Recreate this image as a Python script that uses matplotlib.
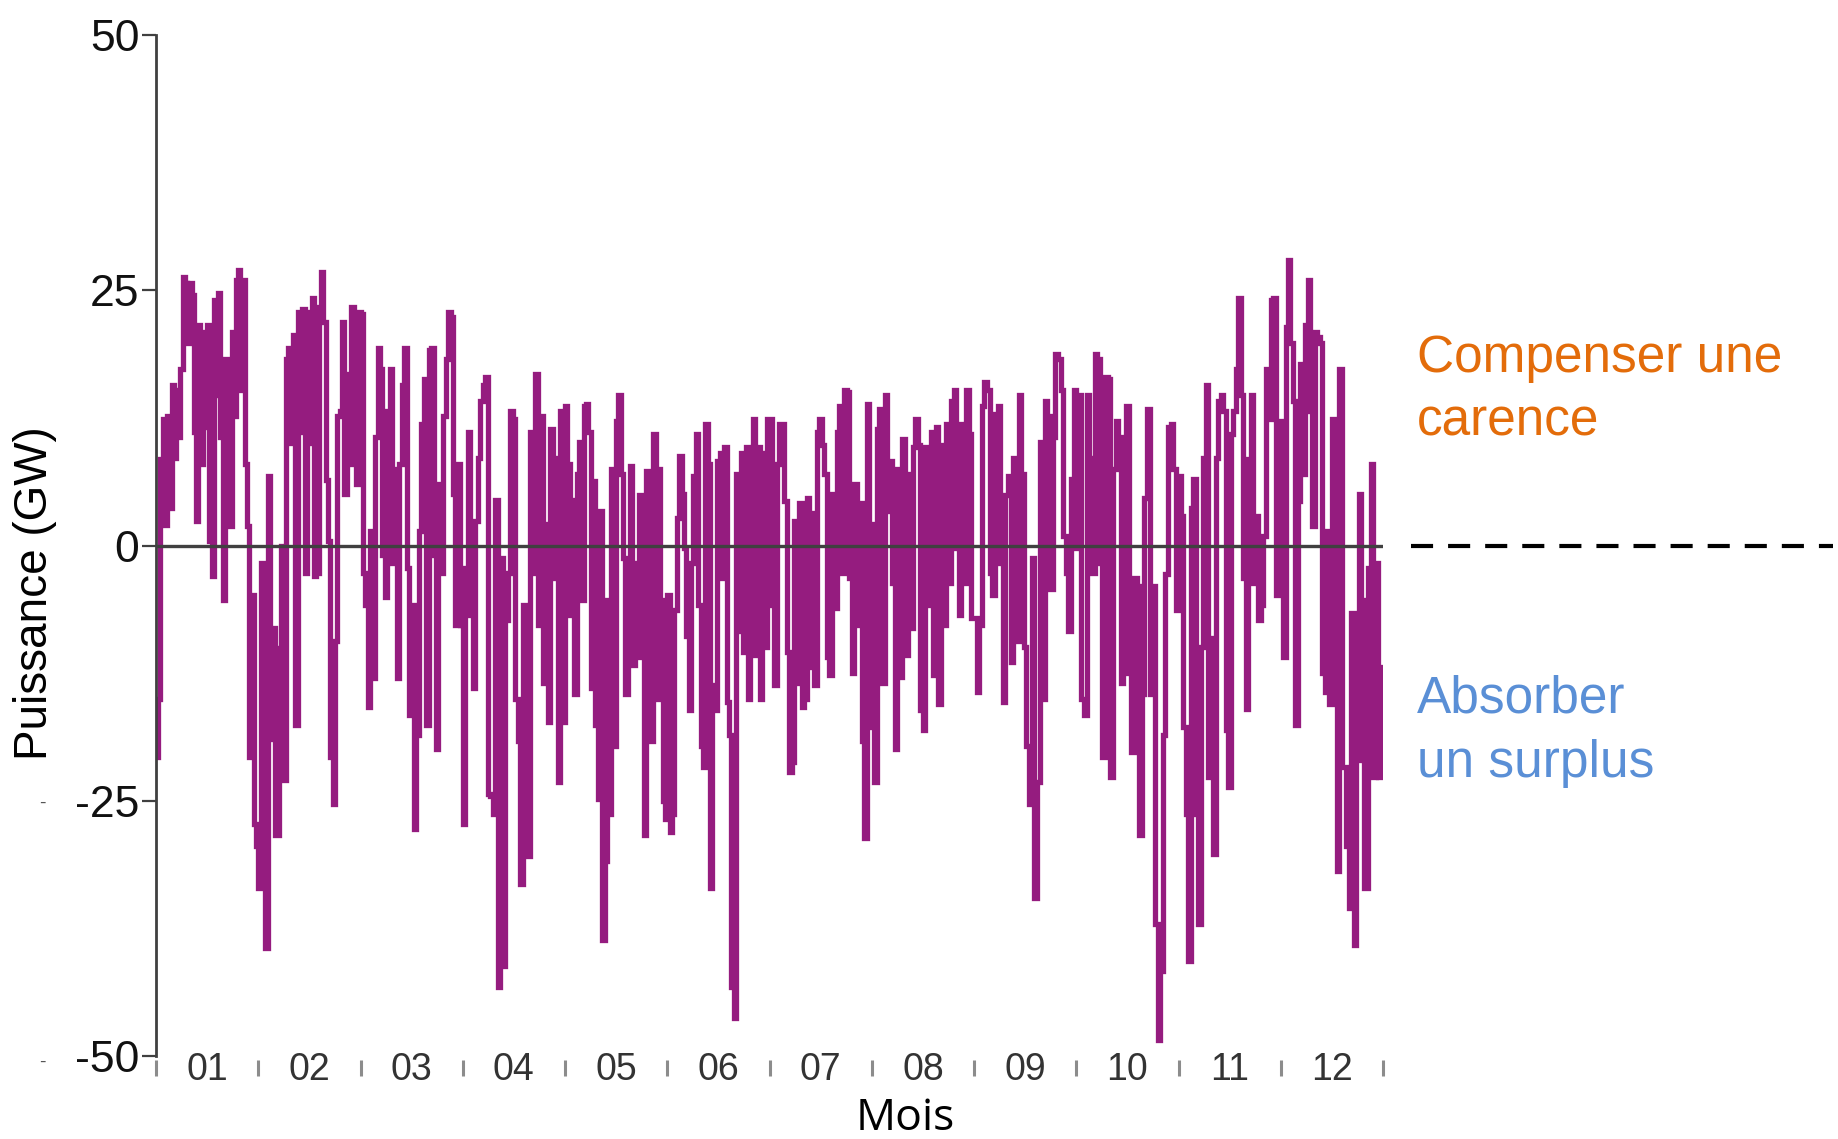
import numpy as np
import matplotlib
matplotlib.use("Agg")
import matplotlib.pyplot as plt
from matplotlib import font_manager

# residual power (GW), values read per month, evenly spread inside each month
jan = [-20.7, -15, 8.5, 12.4, 2, 12.7, 3.7, 15.7, 8.6, 15.2, 10.6, 17.3, 26.3, 25.7, 19.8, 25.7,
       24.5, 11.1, 2.4, 21.6, 8, 20.9, 11.6, 21.6, 0.4, -3, 24, 14.7, 24.7, 10.6, -5.3, 18.3, 9.6,
       1.9, 20.9, 12.7, 26, 27, 15.2, 26, 8, 1.9, -20.7, -4.8, -27.3, -29.4]
feb = [-33.5, -1.7, -21, -39.4, 6.8, -19, -8.1, -28.4, -28.4, -10, 0, -23, 18.3, 19.3, 10, 20.6,
       -17.6, 22.9, 11.1, 23.2, -2.7, 22.9, 10, 24.2, -3, -2.7, 23.4, 26.8, 21.9, 6.4, 0.4, -20.7,
       -25.3, -9.4, 12.7, 13.2, 21.9, 5, 16.8, 8, 23.4, 18.3, 6, 22.9]
mar = [22.7, -2.7, -5.8, -15.8, 1.4, -13, 10.6, 19.3, 17.3, -0.9, -5, 13.2, 17.3, -1.7, 7.5, -13,
       8, 15.7, 19.3, -2.2, -16.6, -5.8, -27.8, -18.6, 1.4, 11.9, 16.3, -17.6, 19.1, 19.3, -0.9,
       -19.9, 6, -2.7, 12.7, 18.3, 22.9, 22.4, 5, -7.8, 8, -7.8]
apr = [-27.3, -2.2, 11.1, -6.8, -14, 2.4, 8.6, 14.2, 15.7, 16.5, -24.3, -24.5, -26.3, 4.5, -43.2,
       -1.2, -41.2, -7.3, -2.7, 13.2, 12.4, -15, -19.1, -33.2, -5.8, -12.5, -30.4, 11.1, -2.7,
       16.8, -7.8, 12.7, -13.5, 2.1, -17.3, 11.4, 8.6, -3.2, -23.2, 13.2, -17.3]
may = [13.7, 8, -6.8, 4.5, -14.5, 7, 10.1, -5.3, 13.7, 13.9, 11.1, -14, 6.3, -17.6, -24.8, 3.4,
       -38.6, -30.9, -5.3, -26.3, 7.5, -19.6, 12.2, 14.7, 7, -1.2, -14.5, -7.3, 7.8, -11.7, -1.7,
       -10.9, 4.9, 4.5, -28.4, 7.3, -14, -19.1, 10.9, -15, 7.5, -5.3, -25, -26.8]
jun = [-4.8, -28.1, -26.3, -6.3, 2.7, 8.8, 5, -0.2, -8.9, -16.1, -1.7, 6.8, 10.9, -5.8, -19.6,
       -21.7, 11.9, 8, -33.5, -13.7, -16.1, 8.3, 9.1, -3.2, 9.6, -15.3, -18.6, -43.2, -46.3, 7,
       -8.4, 9.1, -10.4, 9.6, -15, 8.6, 12.4, -10.7, 9.6, -15, 9.1, -9.9, 12.4]
jul = [12.4, -5.8, -13.7, 8, 11.9, 11.9, 4.4, -10.4, -22.2, -21.2, 2.4, -13.5, 4.2, -15.8, -15,
       4.7, -11.9, 3.2, -13.7, 11.1, 12.4, 9.8, 7, -10.9, -12.7, 5, -6.1, 11.1, 13.7, -2.7, 15.2,
       15, -3.2, -12.5, 6, -7.8, 4.2, -19.1, -28.6, 13.9, -17.8]
aug = [2.1, -23.2, 11.4, 13.4, -13.5, 14.7, 3.4, 8.3, -3.7, -19.9, 7.5, -12.9, 10.4, -10.7, 7,
       -8.1, 9.6, 12.4, 9.8, -16.1, -18.1, 9.6, -5.8, 11.1, -12.7, 11.6, -15.5, 9.8, -7.8, 11.9,
       -3.7, 14.2, 15.2, -0.2, -6.8, 11.9, -3.7, 15.2, 10.9, -7.1]
sep = [-7.1, -14.3, -7.8, 13.7, 16, 15.2, -2.7, -4.8, 12.9, 13.7, -1.7, -15.3, 4.9, 6.8, -11.4,
       8.6, -9.4, 14.7, 7, -9.9, -19.6, -25.3, -1.2, -34.5, -23.2, 10.1, -15, 14.2, 12.7, -4.3,
       10.6, 18.8, 18.3, 15.2, 0.9, -2.7, -8.4, 6.5, 15.2]
oct_ = [-0.2, 14.7, -15, -16.6, 14.7, 8.6, -2.7, 18.8, 18.3, -1.7, -20.7, 16.5, 16.3, -22.7, 7.5,
        12.2, 10.6, -13.5, -12.5, 13.7, -6.8, -20.2, -3.2, -4, -28.4, -14.5, 4.7, 13.4, -14.5, -4,
        -37.1, -48.4, -41.7, -18.6, -2.8, 11.6, 11.9, 7.5, -6.3]
nov = [6.8, 2.9, -17.8, -26.3, -40.7, 3.7, 6.5, -26.3, -37.1, -9.9, 8.6, 15.7, -22.7, -9.1, -30.2,
       8.6, 14.2, 14.7, 13.2, -18.1, -23.7, 10.9, 13.2, 17.3, 24.2, 14.7, -3.2, -16, 8.5, 14.7,
       -3.7, 2.9, -7.3, -5.8, 0.9, 17.3, 12.4, 24, 24.2, -4.8, 12.2]
dec = [11.1, -10.9, 21.4, 28, 19.8, 14.2, -17.6, 4.4, 17.8, 7, 21.6, 26, 13.2, 1.9, 20.9, 20.4,
       19.8, -12.5, -14.3, 1.4, -15.5, 12.4, -3.7, -31.9, 17.3, -21.7, -21.7, -29.4, -35.5, -6.6,
       -39.1, -21, 5, -5.3, -33.5, -33.5, -2.2, 8, -22.7, -1.7, -22.7, -11.9]

months = [jan, feb, mar, apr, may, jun, jul, aug, sep, oct_, nov, dec]
month_labels = ["01", "02", "03", "04", "05", "06", "07", "08", "09", "10", "11", "12"]
yticks = [-50, -25, 0, 25, 50]

# fonts
names = {f.name for f in font_manager.fontManager.ttflist}
narrow = "Liberation Sans Narrow" if "Liberation Sans Narrow" in names else "Liberation Sans"
plt.rcParams['font.family'] = ['Liberation Sans', 'DejaVu Sans']

# build the time axis (months as float)
t = []
v = []
for i, vals in enumerate(months):
    n = len(vals)
    t.extend(i + (np.arange(n) + 0.5) / n)
    v.extend(vals)
t = np.array(t)
v = np.array(v)

fig = plt.figure(figsize=(18.38, 11.39), dpi=100)
ax = fig.add_axes([156/1838, 1 - 1056/1139, (1383 - 156)/1838, (1056 - 35)/1139])

purple = '#951c7f'
ax.plot(t, v, color=purple, lw=3.8, drawstyle='steps-mid', solid_joinstyle='miter', zorder=2)
ax.axhline(0, color='#404040', lw=2.4, zorder=3)

ax.set_xlim(0, 12)
ax.set_ylim(-50, 50)

for s in ['top', 'right', 'bottom']:
    ax.spines[s].set_visible(False)
ax.spines['left'].set_color('#404040')
ax.spines['left'].set_linewidth(2)

ax.set_yticks(yticks)
ax.set_yticklabels([str(y) for y in yticks])
ax.tick_params(axis='y', length=10, width=1.6, color='#404040', pad=2,
               labelsize=32, labelcolor='#111111')
ax.set_xticks([])

# month separators and labels under the axis
xtr = ax.get_xaxis_transform()
ax.plot(np.arange(13), np.full(13, -0.0122), ls='none', marker='|', ms=12, mew=2.2,
        color='#8c8c8c', transform=xtr, clip_on=False)
for i, lab in enumerate(month_labels):
    ax.text(i + 0.5, -0.0235, lab, transform=xtr, ha='center', va='baseline',
            fontsize=27, color='#333333')
ax.text(7.33, -0.072, "Mois", transform=xtr, ha='center', va='baseline',
        fontsize=32, color='black', family=['Open Sans', 'DejaVu Sans'])

fig.text(35/1838, 1 - 506/972, "Puissance (GW)", rotation=90, ha='center', va='center',
         fontsize=33, color='black', family=[narrow, 'DejaVu Sans'])

# small stray marks left of the axis
fig.text(42/1838, 1 - 803/1139, "-", fontsize=14, color='#555555', ha='center', va='center')
fig.text(42/1838, 1 - 1062/1139, "-", fontsize=14, color='#555555', ha='center', va='center')

# dashed zero line prolonged to the right, and side notes
ax.plot([12.27, 16.4], [0, 0], ls=(0, (5.3, 3.6)), lw=3, color='black', clip_on=False)
orange = '#e36c0a'
blue = '#5a8fd6'
ax.text(12.33, 17.0, "Compenser une", fontsize=37, color=orange, ha='left', va='baseline')
ax.text(12.33, 10.8, "carence", fontsize=37, color=orange, ha='left', va='baseline')
ax.text(12.33, -16.4, "Absorber", fontsize=37, color=blue, ha='left', va='baseline')
ax.text(12.33, -22.7, "un surplus", fontsize=37, color=blue, ha='left', va='baseline')

fig.savefig("out.png", dpi=100)
